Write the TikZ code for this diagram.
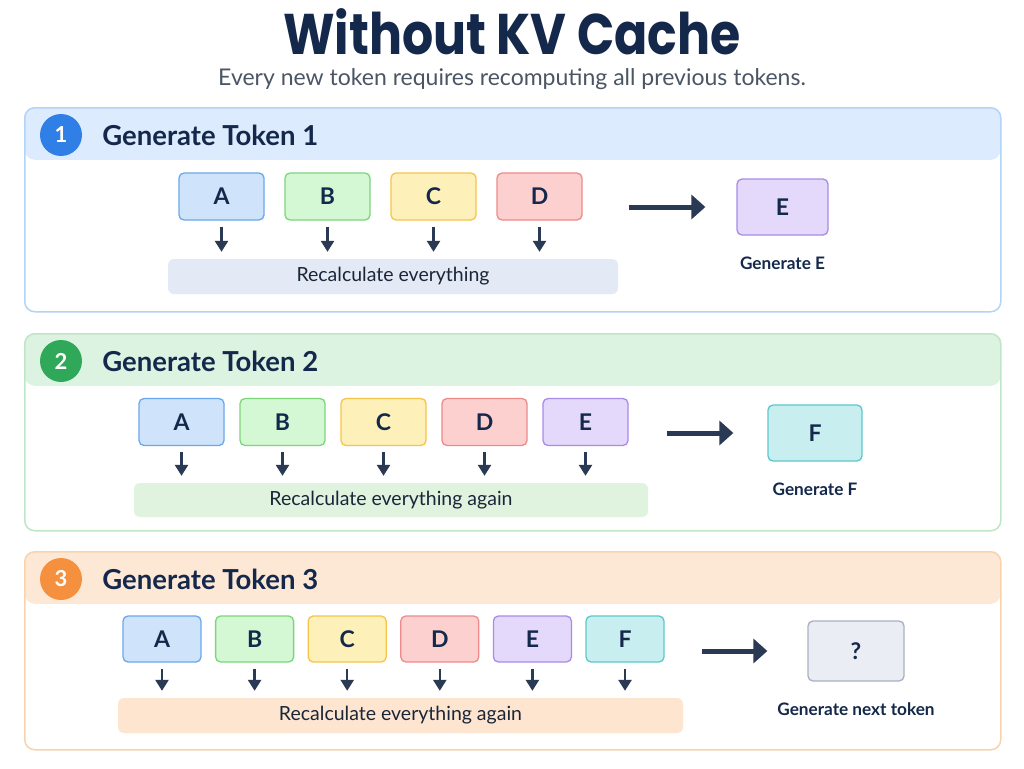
\documentclass[tikz,border=0pt]{standalone}
\usepackage{fontspec}
\setmainfont{Lato}
\newfontfamily\titlefont{Poppins}
\usetikzlibrary{positioning}
\usetikzlibrary{arrows.meta}

\definecolor{navy}{HTML}{13284A}
\definecolor{ink}{HTML}{1A2638}
\definecolor{subgray}{HTML}{4B5563}
\definecolor{arrowc}{HTML}{2A3A55}
\definecolor{blueline}{HTML}{B3D3F7}
\definecolor{bluehead}{HTML}{DCEBFD}
\definecolor{bluebar}{HTML}{E3EAF5}
\definecolor{bluedot}{HTML}{2F7FE6}
\definecolor{greenline}{HTML}{BFE6C6}
\definecolor{greenhead}{HTML}{DCF3E1}
\definecolor{greenbar}{HTML}{DFF3DF}
\definecolor{greendot}{HTML}{2FA85A}
\definecolor{orangeline}{HTML}{F8D3AE}
\definecolor{orangehead}{HTML}{FDE8D6}
\definecolor{orangebar}{HTML}{FDE5D0}
\definecolor{orangedot}{HTML}{F5913E}
\definecolor{Afill}{HTML}{CFE3FB}
\definecolor{Aline}{HTML}{6AA8EE}
\definecolor{Bfill}{HTML}{D4F7D4}
\definecolor{Bline}{HTML}{7CD67C}
\definecolor{Cfill}{HTML}{FDF0B8}
\definecolor{Cline}{HTML}{F5C54A}
\definecolor{Dfill}{HTML}{FDD0D0}
\definecolor{Dline}{HTML}{EF8A8A}
\definecolor{Efill}{HTML}{E4D8FB}
\definecolor{Eline}{HTML}{A98BE8}
\definecolor{Ffill}{HTML}{C9EEF0}
\definecolor{Fline}{HTML}{5CC8CC}
\definecolor{Qfill}{HTML}{EAEDF3}
\definecolor{Qline}{HTML}{A9B1C1}

\begin{document}
\begin{tikzpicture}[x=1pt, y=-1pt,
  panel/.style={draw=#1line, line width=1.5pt, rounded corners=10pt, fill=white,
    minimum width=976pt, anchor=north west, inner sep=0,
    path picture={\fill[#1head] (path picture bounding box.north west) rectangle ([yshift=-52pt]path picture bounding box.north east);}},
  badge/.style={circle, fill=#1dot, text=white, font=\bfseries\fontsize{22}{22}\selectfont, minimum size=42pt, inner sep=0},
  hdr/.style={text=navy, font=\bfseries\fontsize{27.5}{30}\selectfont, inner sep=0},
  tok/.style={draw=#1line, fill=#1fill, line width=1.3pt, rounded corners=5pt, text=navy,
    font=\bfseries\fontsize{23}{23}\selectfont, minimum width=85pt, minimum height=47pt, inner sep=0},
  tokS/.style={minimum width=78pt, minimum height=46pt},
  recalc/.style={fill=#1bar, rounded corners=6pt, text=ink, font=\fontsize{19.5}{22}\selectfont, inner sep=0},
  outlbl/.style={text=navy, font=\bfseries\fontsize{17.2}{19}\selectfont, inner sep=0},
  downarr/.style={draw=arrowc, line width=2.5pt, -{Triangle[width=13pt,length=11pt]}, shorten <=6pt, shorten >=7pt},
  bigarr/.style={draw=arrowc, line width=5pt, -{Triangle[width=24pt,length=14pt]}}]
\useasboundingbox (0,0) rectangle (1024,768);
\fill[white] (0,0) rectangle (1024,768);

% Title
\node[font=\titlefont\bfseries\fontsize{49}{56}\selectfont, text=navy, anchor=base, inner sep=0] (title) at (512,55) {\scalebox{1}[1.17]{Without KV Cache}};
\node[font=\fontsize{23}{26}\selectfont, text=subgray, anchor=base, inner sep=0] (sub) at (512,85) {Every new token requires recomputing all previous tokens.};

% Panel 1
\node[panel=blue, minimum height=204pt] (p1) at (24,107) {};
\node[badge=blue] (bd1) at (61,135) {1};
\node[hdr, right=20pt of bd1] (h1) {Generate Token 1};
\node[tok=A] (a1) at (221.5,196.5) {A};
\node[tok=B, right=19.7pt of a1] (b1) {B};
\node[tok=C, right=19.7pt of b1] (c1) {C};
\node[tok=D, right=19.7pt of c1] (d1) {D};
\node[recalc=blue, minimum width=450pt, minimum height=35pt] (r1) at (393,276.5) {Recalculate everything};
\node[tok=E, minimum width=91pt, minimum height=56pt] (o1) at (782.5,207) {E};
\node[outlbl, below=21pt of o1] (l1) {Generate E};
\foreach \t in {a1,b1,c1,d1} \draw[downarr] (\t) -- (\t |- r1.north);
\draw[bigarr, shorten <=46pt, shorten >=31pt] (d1.east |- o1) -- (o1);

% Panel 2
\node[panel=green, minimum height=197pt] (p2) at (24,333) {};
\node[badge=green] (bd2) at (61,361) {2};
\node[hdr, right=20pt of bd2] (h2) {Generate Token 2};
\node[tok=A] (a2) at (181.5,422) {A};
\node[tok=B, right=14.7pt of a2] (b2) {B};
\node[tok=C, right=14.7pt of b2] (c2) {C};
\node[tok=D, right=14.7pt of c2] (d2) {D};
\node[tok=E, right=14.7pt of d2] (e2) {E};
\node[recalc=green, minimum width=514pt, minimum height=34pt] (r2) at (391,500) {Recalculate everything again};
\node[tok=F, minimum width=94pt, minimum height=56pt] (o2) at (815,433) {F};
\node[outlbl, below=21pt of o2] (l2) {Generate F};
\foreach \t in {a2,b2,c2,d2,e2} \draw[downarr] (\t) -- (\t |- r2.north);
\draw[bigarr, shorten <=38pt, shorten >=34pt] (e2.east |- o2) -- (o2);

% Panel 3
\node[panel=orange, minimum height=198pt] (p3) at (24,551) {};
\node[badge=orange] (bd3) at (61,579) {3};
\node[hdr, right=20pt of bd3] (h3) {Generate Token 3};
\node[tok=A, tokS] (a3) at (162,639) {A};
\node[tok=B, tokS, right=13.3pt of a3] (b3) {B};
\node[tok=C, tokS, right=13.3pt of b3] (c3) {C};
\node[tok=D, tokS, right=13.3pt of c3] (d3) {D};
\node[tok=E, tokS, right=13.3pt of d3] (e3) {E};
\node[tok=F, tokS, right=13.3pt of e3] (f3) {F};
\node[recalc=orange, minimum width=565pt, minimum height=35pt] (r3) at (400.5,715.5) {Recalculate everything again};
\node[tok=Q, minimum width=96pt, minimum height=60pt] (o3) at (856,651) {?};
\node[outlbl, below=21pt of o3] (l3) {Generate next token};
\foreach \t in {a3,b3,c3,d3,e3,f3} \draw[downarr] (\t) -- (\t |- r3.north);
\draw[bigarr, shorten <=37pt, shorten >=40pt] (f3.east |- o3) -- (o3);
\end{tikzpicture}
\end{document}
